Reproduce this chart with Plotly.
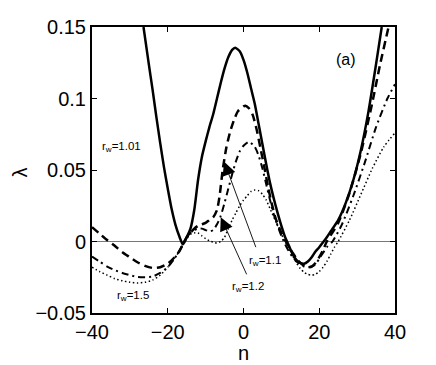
import plotly.graph_objects as go

# ---- data ----
n_101 = [-26.4, -25, -24, -23, -22, -21, -20, -19, -18, -17, -16, -15, -14, -13, -12, -11, -10, -9, -8,
         -7, -6, -5, -4, -3, -2.2, -1, 0, 1, 2, 3, 4, 5, 6, 7, 8, 9, 10, 11, 12, 13, 14, 15, 16,
         17, 18, 19, 20, 21, 22, 23, 25, 27, 29, 31, 33, 35, 36.5]
lam_101 = [0.150, 0.124, 0.106, 0.087, 0.069, 0.052, 0.037, 0.023, 0.012, 0.004, -0.002, 0.003, 0.009,
           0.022, 0.043, 0.059, 0.070, 0.080, 0.089, 0.100, 0.111, 0.121, 0.129, 0.134, 0.1355, 0.133,
           0.127, 0.118, 0.107, 0.096, 0.082, 0.068, 0.054, 0.041, 0.030, 0.020, 0.011, 0.003, -0.003,
           -0.009, -0.013, -0.015, -0.0155, -0.014, -0.011, -0.007, -0.004, -0.0005, 0.003, 0.007,
           0.015, 0.027, 0.043, 0.064, 0.091, 0.124, 0.150]

n_11 = [-40, -38, -36, -34, -32, -30, -28, -26, -24, -22, -20, -18, -17, -16, -15, -14, -13, -12, -11,
        -10, -9, -8, -7, -6.3, -5.5, -4.5, -3.5, -2.5, -1.5, 0, 0.5, 1.5, 2.5, 3.5, 4.5, 5.5, 6.5,
        7.5, 8.5, 10, 11, 12, 13, 14, 15, 16, 17, 18, 19, 20, 21, 22, 25, 28, 31, 34, 36, 38.3]
lam_11 = [0.010, 0.0055, 0.001, -0.003, -0.0075, -0.011, -0.0145, -0.017, -0.0185, -0.018, -0.0155,
          -0.0105, -0.007, -0.002, 0.003, 0.006, 0.009, 0.011, 0.012, 0.013, 0.015, 0.017, 0.022,
          0.032, 0.050, 0.066, 0.077, 0.085, 0.091, 0.0945, 0.095, 0.093, 0.088, 0.078, 0.065, 0.052,
          0.038, 0.026, 0.016, 0.006, 0.001, -0.004, -0.008, -0.012, -0.015, -0.017, -0.018, -0.0175,
          -0.015, -0.011, -0.006, 0.0, 0.013, 0.034, 0.062, 0.097, 0.123, 0.150]

n_12 = [-40, -38, -36, -34, -32, -30, -28, -26, -24, -22, -20, -18, -17, -16, -15, -14, -13, -12, -11,
        -10, -9, -8, -7, -6, -5, -4, -3, -2, -1, 0, 1.5, 3, 4, 5, 6, 7, 8, 9, 10, 11, 12, 13, 14, 15,
        16, 17, 18, 19, 20, 21, 22, 23.5, 26, 29, 32, 35, 38, 40]
lam_12 = [-0.0105, -0.014, -0.0175, -0.020, -0.022, -0.0235, -0.0248, -0.025, -0.0245, -0.022, -0.018,
          -0.011, -0.007, -0.002, 0.003, 0.006, 0.008, 0.009, 0.009, 0.008, 0.007, 0.008, 0.012, 0.018,
          0.027, 0.037, 0.047, 0.056, 0.063, 0.067, 0.0698, 0.066, 0.060, 0.051, 0.040, 0.029, 0.019,
          0.011, 0.004, -0.002, -0.007, -0.011, -0.014, -0.016, -0.0175, -0.018, -0.0175, -0.016,
          -0.012, -0.008, -0.004, 0.0, 0.012, 0.032, 0.055, 0.080, 0.100, 0.110]

n_15 = [-40, -38, -36, -34, -32, -30, -28, -26, -24, -22, -20, -18, -17, -16, -15, -14, -13, -12, -11,
        -10, -9, -8, -7, -6, -5, -4, -3, -2, -1, 0, 1, 2, 3, 4, 5, 6, 7, 8, 9, 10, 11, 12, 13, 14, 15,
        16, 17, 18, 19, 20, 21, 22, 23, 24, 25, 28, 31, 34, 37, 40]
lam_15 = [-0.018, -0.021, -0.0235, -0.026, -0.0275, -0.0285, -0.029, -0.0285, -0.027, -0.0235, -0.018,
          -0.011, -0.007, -0.002, 0.002, 0.005, 0.006, 0.006, 0.004, 0.002, 0.0005, -0.0005, -0.001,
          0.0, 0.003, 0.009, 0.015, 0.020, 0.025, 0.029, 0.032, 0.035, 0.036, 0.0355, 0.033, 0.029,
          0.023, 0.017, 0.011, 0.005, 0.0, -0.005, -0.010, -0.015, -0.019, -0.0215, -0.023, -0.0235,
          -0.023, -0.021, -0.018, -0.014, -0.009, -0.004, 0.0, 0.015, 0.033, 0.051, 0.066, 0.076]

x_ticks = [-40, -20, 0, 20, 40]
y_ticks = [-0.05, 0, 0.05, 0.1, 0.15]
y_tick_text = ["\u22120.05", "0", "0.05", "0.1", "0.15"]
x_tick_text = ["\u221240", "\u221220", "0", "20", "40"]

FONT = "Liberation Sans, Arial, Helvetica, sans-serif"

fig = go.Figure()
fig.add_trace(go.Scatter(x=n_101, y=lam_101, mode="lines",
                         line=dict(color="black", width=2.5, shape="spline", smoothing=0.6)))
fig.add_trace(go.Scatter(x=n_11, y=lam_11, mode="lines",
                         line=dict(color="black", width=2.5, dash="8px,5px", shape="spline", smoothing=0.6)))
fig.add_trace(go.Scatter(x=n_12, y=lam_12, mode="lines",
                         line=dict(color="black", width=2, dash="7px,4px,2px,4px", shape="spline", smoothing=0.6)))
fig.add_trace(go.Scatter(x=n_15, y=lam_15, mode="lines",
                         line=dict(color="black", width=1.5, dash="1.5px,2.5px", shape="spline", smoothing=0.6)))

ann_font = dict(family=FONT, size=11.5, color="black")
annotations = [
    dict(x=-37.8, y=0.066, text="r<sub>w</sub>=1.01", xanchor="left", yanchor="middle", showarrow=False, font=ann_font),
    dict(x=-33.9, y=-0.038, text="r<sub>w</sub>=1.5", xanchor="left", yanchor="middle", showarrow=False, font=ann_font),
    dict(x=0.9, y=-0.0135, text="r<sub>w</sub>=1.1", xanchor="left", yanchor="middle", showarrow=False, font=ann_font),
    dict(x=-3.6, y=-0.0315, text="r<sub>w</sub>=1.2", xanchor="left", yanchor="middle", showarrow=False, font=ann_font),
    dict(x=27.0, y=0.1275, text="(a)", xanchor="center", yanchor="middle", showarrow=False,
         font=dict(family=FONT, size=16, color="black")),
    dict(x=-5.1, y=0.0558, ax=3.4, ay=-0.005, axref="x", ayref="y", xref="x", yref="y", text="",
         showarrow=True, arrowhead=2, arrowsize=3, arrowwidth=0.9, arrowcolor="black"),
    dict(x=-6.0, y=0.017, ax=1.0, ay=-0.024, axref="x", ayref="y", xref="x", yref="y", text="",
         showarrow=True, arrowhead=2, arrowsize=3, arrowwidth=0.9, arrowcolor="black"),
    # axis titles
    dict(x=0.5, y=-0.14, xref="paper", yref="paper", text="n", xanchor="center", yanchor="middle",
         showarrow=False, font=dict(family=FONT, size=20, color="black")),
    dict(x=-0.236, y=0.493, xref="paper", yref="paper", text="λ", textangle=-90, xanchor="center",
         yanchor="middle", showarrow=False, font=dict(family=FONT, size=20, color="black")),
]

# the page body adds an 8px offset, so the figure is 8px smaller on each side
fig.update_layout(
    width=428, height=357,
    margin=dict(l=84, r=41, t=19, b=52, autoexpand=False),
    paper_bgcolor="white", plot_bgcolor="white",
    showlegend=False,
    font=dict(family=FONT, size=20, color="black"),
    annotations=annotations,
)
fig.update_xaxes(range=[-40, 40], tickvals=x_ticks, ticktext=x_tick_text, automargin=False,
                 ticks="inside", ticklen=5, tickwidth=1, tickcolor="black",
                 showline=True, linecolor="black", linewidth=2, mirror="ticks",
                 showgrid=False, zeroline=False,
                 tickfont=dict(family=FONT, size=20))
fig.update_yaxes(range=[-0.05, 0.15], tickvals=y_ticks, ticktext=y_tick_text, automargin=False,
                 ticks="inside", ticklen=5, tickwidth=1, tickcolor="black",
                 showline=True, linecolor="black", linewidth=2, mirror="ticks",
                 showgrid=False, zeroline=True, zerolinecolor="#777777", zerolinewidth=1,
                 tickfont=dict(family=FONT, size=20))

fig.write_html("out.html")
